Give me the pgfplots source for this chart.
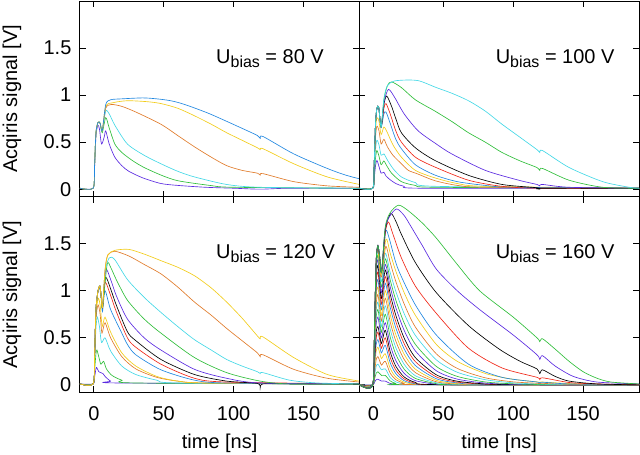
\documentclass[border=0pt]{standalone}
\usepackage{fontspec}
\setmainfont{Liberation Sans}
\usepackage{pgfplots}
\pgfplotsset{compat=1.18}
\usepgfplotslibrary{groupplots}
\definecolor{gpurple}{HTML}{5B2BE0}
\definecolor{ggreen}{HTML}{30BE3A}
\definecolor{gcyan}{HTML}{44D8E6}
\definecolor{gorange}{HTML}{E07B2A}
\definecolor{gyellow}{HTML}{F2CC1A}
\definecolor{gblue}{HTML}{2288E0}
\definecolor{gred}{HTML}{F02818}

\newcommand{\ubias}[1]{U\raisebox{-4pt}{\fontsize{16}{16}\selectfont bias} = #1 V}

\begin{document}
\begin{tikzpicture}[font=\fontsize{20}{23}\selectfont]
\begin{groupplot}[
  group style={group size=2 by 2, horizontal sep=0pt, vertical sep=0pt,
    xticklabels at=edge bottom, yticklabels at=edge left},
  width=280pt, height=196pt, scale only axis,
  xmin=-10, xmax=190, ymin=-0.08, ymax=2,
  xtick={0,50,100,150}, ytick={0,0.5,1,1.5},
  tick align=inside, tick pos=both, major tick length=6pt,
  axis line style={line width=0.8pt},
  every tick/.style={black, line width=0.8pt},
  /pgf/number format/assume math mode=true,
  tick label style={font=\fontsize{20}{23}\selectfont},
  yticklabel style={xshift=-5pt},
  xticklabel style={yshift=-11pt},
  ylabel style={at={(axis description cs:-0.243,0.5)}, anchor=center},
  xlabel style={at={(axis description cs:0.5,-0.262)}, anchor=center},
  every axis plot/.append style={line width=0.65pt, mark=none, smooth, tension=0.45},
  cycle list={{gpurple},{ggreen},{gcyan},{gorange},{gyellow},{gblue},{gred},{black}},
]

% ---------- 80 V ----------
\nextgroupplot[ylabel={Acqiris signal [V]}]
\coordinate (TL) at (rel axis cs:0,1);
\addplot coordinates {(-10,0.01) (-0.5,0.01) (0.5,0.22) (1.5,0.56) (2.8,0.68) (4,0.64) (5.5,0.48) (7.5,0.56) (8.5,0.62) (11,0.48) (15,0.34) (20,0.25) (25,0.19) (35,0.12) (48,0.06) (60,0.04) (80,0.02) (100,0.01) (119,0.0) (140,0.01) (190,0.01)};
\addplot coordinates {(-10,0.01) (-0.5,0.01) (0.5,0.25) (1.5,0.6) (3,0.71) (4.5,0.7) (6,0.6) (8.5,0.76) (11,0.65) (15,0.48) (20,0.39) (28,0.3) (36,0.23) (48,0.15) (60,0.09) (83,0.04) (100,0.02) (190,0.01)};
\addplot coordinates {(-10,0.01) (-0.5,0.01) (0.5,0.25) (1.5,0.6) (3,0.71) (4.5,0.7) (6,0.62) (8.5,0.83) (11,0.8) (15,0.68) (24,0.48) (36,0.36) (48,0.27) (60,0.19) (72,0.13) (95,0.05) (119,0.02) (190,0.01)};
\addplot coordinates {(-10,0.01) (-0.5,0.01) (0.5,0.25) (1.5,0.6) (3,0.71) (4.5,0.7) (6,0.62) (8.5,0.86) (12.5,0.9) (20,0.88) (30,0.82) (48,0.69) (60,0.57) (72,0.45) (84,0.34) (95,0.25) (106,0.2) (117,0.17) (119,0.15) (121,0.165) (143,0.08) (167,0.035) (190,0.02)};
\addplot coordinates {(-10,0.01) (-0.5,0.01) (0.5,0.25) (1.5,0.6) (3,0.71) (4.5,0.7) (6,0.62) (8.5,0.88) (14,0.92) (24,0.94) (38,0.93) (48,0.91) (60,0.86) (72,0.78) (84,0.69) (95,0.6) (106,0.52) (117,0.44) (119,0.42) (121,0.43) (143,0.27) (167,0.13) (190,0.05)};
\addplot coordinates {(-10,0.01) (-0.5,0.01) (0.5,0.25) (1.5,0.6) (3,0.71) (4.5,0.7) (6,0.62) (8.5,0.9) (12,0.95) (20,0.96) (35,0.97) (45,0.96) (55,0.94) (65,0.9) (83,0.8) (107,0.64) (117,0.57) (119,0.54) (121,0.56) (143,0.375) (167,0.22) (180,0.15) (190,0.11)};
\node[anchor=base west] at (axis cs:85,1.34) {\ubias{80}};

% ---------- 100 V ----------
\nextgroupplot
\addplot coordinates {(-10,0.01) (-0.5,0.01) (0.5,0.1) (1.5,0.25) (2.5,0.305) (4,0.24) (5.5,0.17) (7.5,0.18) (9,0.14) (12,0.1) (16,0.06) (22,0.03) (35,0.01) (190,0.01)};
\addplot coordinates {(-10,0.01) (-0.5,0.01) (0.5,0.12) (1.5,0.33) (2.5,0.41) (4,0.35) (5.5,0.26) (7.5,0.3) (9.5,0.25) (13,0.17) (20,0.08) (30,0.04) (45,0.02) (190,0.01)};
\addplot coordinates {(-10,0.01) (-0.5,0.01) (0.5,0.15) (1.5,0.42) (2.5,0.52) (4,0.47) (5.5,0.36) (7.5,0.375) (10,0.31) (14,0.22) (20,0.13) (30,0.07) (45,0.03) (190,0.01)};
\addplot coordinates {(-10,0.01) (-0.5,0.01) (0.5,0.2) (1.5,0.55) (2.5,0.67) (4,0.62) (5.5,0.48) (7.5,0.53) (10,0.45) (14,0.36) (20,0.27) (25,0.2) (32,0.16) (44,0.09) (60,0.04) (80,0.02) (190,0.01)};
\addplot coordinates {(-10,0.01) (-0.5,0.01) (0.5,0.22) (1.5,0.62) (2.5,0.76) (4,0.72) (5.5,0.58) (7.5,0.66) (10,0.6) (14,0.47) (20,0.34) (30,0.2) (44,0.12) (60,0.06) (80,0.03) (190,0.01)};
\addplot coordinates {(-10,0.01) (-0.5,0.01) (0.5,0.25) (1.5,0.7) (2.5,0.85) (3.8,0.86) (5.5,0.66) (7.5,0.8) (9,0.82) (12,0.7) (16,0.53) (20,0.43) (30,0.26) (44,0.15) (60,0.08) (80,0.04) (100,0.02) (190,0.01)};
\addplot coordinates {(-10,0.01) (-0.5,0.01) (0.5,0.25) (1.5,0.7) (2.5,0.86) (3.8,0.87) (5.5,0.66) (7.5,0.86) (9,0.91) (12,0.8) (16,0.62) (20,0.5) (30,0.34) (44,0.235) (68,0.095) (92,0.03) (119,0.01) (190,0.01)};
\addplot coordinates {(-10,0.01) (-0.5,0.01) (0.5,0.25) (1.5,0.7) (2.5,0.86) (3.8,0.87) (5.5,0.66) (7.5,0.9) (9.5,0.99) (13,0.88) (16,0.75) (20,0.6) (30,0.44) (44,0.305) (68,0.147) (92,0.05) (117,0.015) (119,0.0) (121,0.01) (190,0.01)};
\addplot coordinates {(-10,0.01) (-0.5,0.01) (0.5,0.25) (1.5,0.7) (2.5,0.86) (3.8,0.87) (5.5,0.66) (7.5,0.92) (10.7,1.06) (15,0.98) (22,0.8) (32,0.62) (45,0.48) (56,0.375) (80,0.2) (104,0.095) (117,0.05) (119,0.035) (121,0.05) (140,0.02) (190,0.01)};
\addplot coordinates {(-10,0.01) (-0.5,0.01) (0.5,0.25) (1.5,0.7) (2.5,0.86) (3.8,0.87) (5.5,0.66) (7.5,0.95) (10,1.1) (13,1.14) (20,1.08) (30,0.95) (44,0.83) (56,0.72) (68,0.6) (80,0.5) (92,0.39) (105,0.3) (117,0.23) (119,0.2) (121,0.22) (140,0.095) (164,0.02) (190,0.01)};
\addplot coordinates {(-10,0.01) (-0.5,0.01) (0.5,0.25) (1.5,0.7) (2.5,0.86) (3.8,0.87) (5.5,0.66) (7.5,0.96) (10,1.1) (15,1.15) (25,1.16) (33,1.15) (45,1.08) (56,1.02) (68,0.94) (80,0.83) (92,0.69) (105,0.55) (117,0.42) (119,0.39) (121,0.41) (140,0.23) (164,0.08) (183,0.02) (190,0.01)};
\node[anchor=base west] at (axis cs:85,1.34) {\ubias{100}};

% ---------- 120 V ----------
\nextgroupplot[ylabel={Acqiris signal [V]}, xlabel={time [ns]}]
\addplot coordinates {(-10,0.01) (-0.5,0.01) (0.5,0.08) (1.5,0.17) (2,0.185) (3.5,0.14) (5,0.13) (6.5,0.12) (8,0.09) (12,0.04) (18,0.02) (190,0.01)};
\addplot coordinates {(-10,0.01) (-0.5,0.01) (0.5,0.15) (1.5,0.33) (2.2,0.37) (3.5,0.3) (5,0.22) (7,0.25) (9,0.17) (13,0.1) (20,0.05) (30,0.02) (190,0.01)};
\addplot coordinates {(-10,0.01) (-0.5,0.01) (0.5,0.25) (1.5,0.6) (2.5,0.72) (4,0.62) (5.5,0.45) (8,0.5) (12,0.36) (20,0.2) (30,0.11) (45,0.05) (60,0.02) (190,0.01)};
\addplot coordinates {(-10,0.01) (-0.5,0.01) (0.5,0.28) (1.5,0.7) (3,0.85) (4.5,0.75) (5.8,0.55) (8,0.66) (12,0.5) (20,0.3) (30,0.17) (45,0.08) (60,0.04) (80,0.02) (190,0.01)};
\addplot coordinates {(-10,0.01) (-0.5,0.01) (0.5,0.3) (1.5,0.76) (3.3,0.92) (4.7,0.82) (6,0.62) (8,0.72) (12,0.56) (20,0.34) (30,0.2) (45,0.09) (60,0.04) (80,0.02) (190,0.01)};
\addplot coordinates {(-10,0.01) (-0.5,0.01) (0.5,0.3) (1.5,0.8) (3,1.0) (4.3,1.02) (5.2,0.92) (6.2,0.78) (8,1.0) (12,0.8) (20,0.55) (24,0.43) (30,0.32) (48,0.16) (72,0.05) (95,0.02) (190,0.01)};
\addplot coordinates {(-10,0.01) (-0.5,0.01) (0.5,0.3) (1.5,0.8) (3,1.0) (4.3,1.05) (5.2,0.95) (6.2,0.82) (8,1.09) (12,0.95) (16,0.78) (24,0.5) (30,0.4) (48,0.22) (72,0.07) (95,0.03) (190,0.01)};
\addplot coordinates {(-10,0.01) (-0.5,0.01) (0.5,0.3) (1.5,0.8) (3,1.0) (4.3,1.05) (5.2,0.95) (6.2,0.82) (8.3,1.14) (12,1.02) (16,0.85) (24,0.565) (30,0.47) (48,0.27) (72,0.11) (95,0.04) (117,0.015) (119,-0.03) (121,0.01) (140,0.01) (190,0.01)};
\addplot coordinates {(-10,0.01) (-0.5,0.01) (0.5,0.3) (1.5,0.8) (3,1.0) (4.3,1.05) (5.2,0.95) (6.2,0.82) (8.5,1.22) (12,1.12) (16,0.95) (24,0.7) (36,0.5) (48,0.37) (72,0.165) (95,0.07) (119,0.02) (190,0.01)};
\addplot coordinates {(-10,0.01) (-0.5,0.01) (0.5,0.3) (1.5,0.8) (3,1.0) (4.3,1.05) (5.2,0.95) (6.2,0.82) (9.5,1.28) (12,1.25) (16,1.12) (24,0.9) (36,0.7) (48,0.55) (72,0.29) (95,0.13) (119,0.04) (140,0.01) (190,0.01)};
\addplot coordinates {(-10,0.01) (-0.5,0.01) (0.5,0.3) (1.5,0.8) (3,1.0) (4.3,1.05) (5.2,0.95) (6.2,0.82) (8,1.2) (11,1.35) (15,1.33) (24,1.12) (36,0.93) (48,0.77) (60,0.62) (72,0.48) (84,0.37) (95,0.27) (106,0.2) (117,0.14) (119,0.12) (121,0.13) (140,0.05) (160,0.02) (190,0.01)};
\addplot coordinates {(-10,0.01) (-0.5,0.01) (0.5,0.3) (1.5,0.8) (3,1.0) (4.3,1.05) (5.2,0.95) (6.2,0.82) (8,1.22) (10,1.38) (15,1.42) (25,1.37) (36,1.28) (48,1.18) (60,1.04) (72,0.88) (84,0.74) (95,0.6) (106,0.47) (117,0.34) (119,0.3) (121,0.32) (143,0.165) (167,0.07) (190,0.03)};
\addplot coordinates {(-10,0.01) (-0.5,0.01) (0.5,0.3) (1.5,0.8) (3,1.0) (4.3,1.05) (5.2,0.95) (6.2,0.82) (8,1.22) (10,1.38) (15,1.43) (25,1.44) (36,1.39) (48,1.32) (60,1.25) (72,1.16) (84,1.03) (95,0.88) (106,0.71) (117,0.52) (119,0.49) (121,0.51) (143,0.29) (167,0.11) (190,0.04)};
\node[anchor=base west] at (axis cs:85,1.34) {\ubias{120}};

% ---------- 160 V ----------
\nextgroupplot[xlabel={time [ns]}]
\coordinate (BR) at (rel axis cs:1,0);
\addplot coordinates {(-10,0) (-0.5,0) (0.8,0.03) (2,0.055) (3.2,0.06) (4.5,0.05) (5.8,0.04) (8.5,0.04) (12,0.015) (16,0.005) (22,0.001) (190,0)};
\addplot coordinates {(-10,0) (-0.5,0) (0.8,0.063) (2,0.126) (3.2,0.14) (4.5,0.12) (5.8,0.1) (8.5,0.1) (12,0.042) (16,0.015) (22,0.003) (190,0)};
\addplot coordinates {(-10,0) (-0.5,0) (0.8,0.1) (2,0.2) (3.2,0.22) (4.5,0.19) (5.8,0.16) (8.5,0.17) (12,0.078) (16,0.032) (22,0.009) (30,0) (190,0)};
\addplot coordinates {(-10,0) (-0.5,0) (0.8,0.135) (2,0.27) (3.2,0.3) (4.5,0.255) (5.8,0.21) (8.5,0.25) (12,0.124) (16,0.056) (22,0.017) (30,0.003) (190,0)};
\addplot coordinates {(-10,0) (-0.5,0) (0.8,0.18) (2,0.36) (3.2,0.4) (4.5,0.34) (5.8,0.28) (8.5,0.33) (12,0.175) (16,0.084) (22,0.028) (30,0.007) (45,0) (190,0)};
\addplot coordinates {(-10,0) (-0.5,0) (0.8,0.216) (2,0.432) (3.2,0.48) (4.5,0.41) (5.8,0.34) (8.5,0.42) (12,0.234) (16,0.121) (22,0.044) (30,0.012) (45,0) (190,0)};
\addplot coordinates {(-10,0) (-0.5,0) (0.8,0.25) (2,0.5) (3.2,0.56) (4.5,0.48) (5.8,0.39) (8.5,0.5) (12,0.292) (16,0.158) (22,0.063) (30,0.019) (45,0.002) (190,0)};
\addplot coordinates {(-10,0) (-0.5,0) (0.8,0.28) (2,0.56) (3.2,0.62) (4.5,0.53) (5.8,0.44) (8.5,0.58) (12,0.352) (16,0.199) (22,0.084) (30,0.027) (45,0.003) (190,0)};
\addplot coordinates {(-10,0) (-0.5,0) (0.8,0.32) (2,0.65) (3.2,0.72) (4.5,0.61) (5.8,0.5) (8.5,0.66) (12,0.426) (16,0.259) (22,0.122) (30,0.045) (45,0.007) (60,0.001) (190,0)};
\addplot coordinates {(-10,0) (-0.5,0) (0.8,0.36) (2,0.72) (3.2,0.8) (4.5,0.68) (5.8,0.56) (8.5,0.75) (12,0.509) (16,0.326) (22,0.167) (30,0.069) (45,0.013) (60,0.002) (190,0)};
\addplot coordinates {(-10,0) (-0.5,0) (0.8,0.4) (2,0.79) (3.2,0.88) (4.5,0.75) (5.8,0.62) (8.5,0.84) (12,0.592) (16,0.396) (22,0.218) (30,0.097) (45,0.022) (60,0.005) (80,0.001) (190,0)};
\addplot coordinates {(-10,0) (-0.5,0) (0.8,0.43) (2,0.86) (3.2,0.96) (4.5,0.82) (5.8,0.68) (8.5,0.92) (12,0.669) (16,0.466) (22,0.27) (30,0.131) (45,0.033) (60,0.009) (80,0.001) (190,0)};
\addplot coordinates {(-10,0) (-0.5,0) (0.8,0.47) (2,0.94) (3.2,1.04) (4.5,0.88) (5.8,0.74) (8.5,1.0) (12,0.747) (16,0.535) (22,0.325) (30,0.167) (45,0.048) (60,0.014) (80,0.003) (190,0)};
\addplot coordinates {(-10,0) (-0.5,0) (0.8,0.5) (2,1.01) (3.2,1.12) (4.5,0.95) (5.8,0.8) (8.5,1.08) (12,0.825) (16,0.607) (22,0.382) (30,0.206) (45,0.065) (60,0.021) (80,0.004) (190,0)};
\addplot coordinates {(-10,0) (-0.5,0) (0.8,0.54) (2,1.08) (3.2,1.2) (4.5,1.02) (5.8,0.86) (8.5,1.15) (12,0.896) (16,0.673) (22,0.438) (30,0.247) (45,0.085) (60,0.029) (80,0.007) (100,0.002) (190,0)};
\addplot coordinates {(-10,0) (-0.5,0) (0.8,0.57) (2,1.14) (3.2,1.27) (4.5,1.08) (5.8,0.92) (8.5,1.22) (12,0.966) (16,0.741) (22,0.497) (30,0.29) (45,0.107) (60,0.039) (80,0.01) (100,0.003) (190,0)};
\addplot coordinates {(-10,0) (-0.5,0) (0.8,0.6) (2,1.2) (3.2,1.33) (4.5,1.13) (5.8,0.98) (8.5,1.28) (12,1.042) (16,0.823) (22,0.579) (30,0.361) (45,0.15) (60,0.061) (80,0.019) (100,0.006) (119,0.002) (190,0)};
\addplot coordinates {(-10,0) (-0.5,0) (0.8,0.62) (2,1.24) (3.2,1.38) (4.5,1.17) (5.8,1.04) (8.5,1.34) (12,1.115) (16,0.903) (22,0.658) (30,0.431) (45,0.196) (60,0.09) (80,0.031) (100,0.011) (119,0.004) (190,0)};
\addplot coordinates {(-10,0) (-0.5,0) (0.8,0.64) (2,1.28) (3.2,1.42) (4.5,1.21) (5.8,1.1) (8.5,1.4) (12,1.194) (16,0.995) (22,0.757) (30,0.526) (45,0.266) (60,0.134) (80,0.055) (100,0.022) (119,0.009) (140,0.003) (190,0)};
\addplot coordinates {(-10,0) (-0.5,0) (0.8,0.65) (2,1.3) (3.2,1.45) (4.5,1.23) (5.8,1.15) (8.8,1.47) (12,1.3) (16,1.1) (22,0.86) (30,0.615) (45,0.33) (60,0.175) (80,0.075) (100,0.032) (117,0.017) (119,0.012) (121,0.016) (140,0.006) (190,0)};
\addplot coordinates {(-10,0) (-0.5,0) (0.8,0.66) (2,1.32) (3.2,1.47) (4.5,1.25) (5.8,1.18) (9,1.55) (12,1.4) (16,1.21) (22,0.98) (30,0.74) (45,0.43) (60,0.25) (80,0.121) (100,0.059) (117,0.032) (119,0.025) (121,0.03) (140,0.014) (160,0.006) (190,0.002)};
\addplot coordinates {(-10,0) (-0.5,0) (0.8,0.66) (2,1.33) (3.2,1.48) (4.5,1.36) (5.8,1.2) (8.5,1.6) (9.5,1.64) (12,1.52) (16,1.3) (20,1.15) (30,0.85) (45,0.53) (68,0.22) (92,0.08) (117,0.03) (119,0.015) (121,0.028) (140,0.01) (190,0)};
\addplot coordinates {(-10,0) (-0.5,0) (0.8,0.66) (2,1.33) (3.2,1.48) (4.5,1.36) (5.8,1.2) (8.5,1.62) (10.8,1.73) (14,1.6) (20,1.35) (30,1.05) (45,0.76) (68,0.39) (92,0.18) (117,0.08) (119,0.05) (121,0.075) (140,0.025) (160,0.01) (190,0)};
\addplot coordinates {(-10,0) (-0.5,0) (0.8,0.66) (2,1.33) (3.2,1.48) (4.5,1.36) (5.8,1.2) (8.5,1.65) (12.4,1.82) (16,1.74) (20,1.6) (30,1.3) (45,0.98) (68,0.63) (90,0.38) (105,0.25) (117,0.17) (119,0.12) (121,0.16) (130,0.09) (140,0.04) (160,0.01) (190,0)};
\addplot coordinates {(-10,0) (-0.5,0) (0.8,0.66) (2,1.33) (3.2,1.48) (4.5,1.36) (5.8,1.2) (8.5,1.67) (12,1.8) (16.7,1.87) (22,1.8) (27,1.68) (35,1.48) (45,1.23) (60,1.0) (76,0.8) (100,0.53) (117,0.32) (119,0.27) (121,0.31) (130,0.2) (143,0.09) (160,0.03) (190,0.01)};
\addplot coordinates {(-10,0) (-0.5,0) (0.8,0.66) (2,1.33) (3.2,1.48) (4.5,1.36) (5.8,1.2) (8.5,1.68) (12,1.83) (18,1.91) (25,1.85) (35,1.72) (45,1.56) (60,1.28) (76,1.0) (100,0.72) (117,0.5) (119,0.46) (121,0.49) (130,0.38) (140,0.25) (150,0.14) (160,0.07) (170,0.03) (190,0.01)};
\node[anchor=base west] at (axis cs:85,1.34) {\ubias{160}};
\end{groupplot}
\pgfresetboundingbox
\path[use as bounding box] ([shift={(-80pt,1pt)}]TL) rectangle ([shift={(1pt,-62pt)}]BR);
\end{tikzpicture}
\end{document}
